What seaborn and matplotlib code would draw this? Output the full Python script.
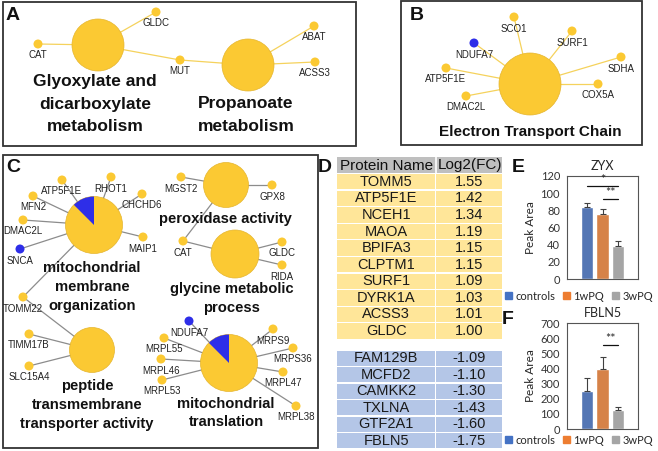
import numpy as np
import pandas as pd
import seaborn as sns
import matplotlib.pyplot as plt
from matplotlib.patches import Circle, Wedge, Rectangle, Patch

sns.set_theme(style="white")
plt.rcParams['font.family'] = ['Liberation Sans', 'DejaVu Sans']

# ---- data ----
down_genes = ["NDUFA7", "SNCA"]

a_terms = ["Glyoxylate and\ndicarboxylate\nmetabolism", "Propanoate\nmetabolism"]
a_genes = [["CAT", "GLDC", "MUT"], ["MUT", "ABAT", "ACSS3"]]

b_terms = ["Electron Transport Chain"]
b_genes = [["SCO1", "SURF1", "SDHA", "COX5A", "DMAC2L", "ATP5F1E", "NDUFA7"]]

c_terms = ["mitochondrial\nmembrane\norganization", "peroxidase activity",
           "glycine metabolic\nprocess", "peptide\ntransmembrane\ntransporter activity",
           "mitochondrial\ntranslation"]
c_genes = [["ATP5F1E", "RHOT1", "CHCHD6", "MAIP1", "TOMM22", "SNCA", "DMAC2L", "MFN2"],
           ["MGST2", "GPX8", "CAT"],
           ["CAT", "GLDC", "RIDA"],
           ["TOMM22", "TIMM17B", "SLC15A4"],
           ["NDUFA7", "MRPS9", "MRPS36", "MRPL47", "MRPL38", "MRPL53", "MRPL46", "MRPL55"]]

up_names = ["TOMM5", "ATP5F1E", "NCEH1", "MAOA", "BPIFA3", "CLPTM1", "SURF1",
            "DYRK1A", "ACSS3", "GLDC"]
up_fc = [1.55, 1.42, 1.34, 1.19, 1.15, 1.15, 1.09, 1.03, 1.01, 1.00]
down_names = ["FAM129B", "MCFD2", "CAMKK2", "TXLNA", "GTF2A1", "FBLN5"]
down_fc = [-1.09, -1.10, -1.30, -1.43, -1.60, -1.75]

groups = ["controls", "1wPQ", "3wPQ"]
zyx_mean = [84, 76, 38]
zyx_err = [5, 6, 6]
fbln5_mean = [253, 393, 128]
fbln5_err = [87, 85, 15]

# ---- layout (pixel positions on the canvas) ----
a_term_xy = [(98, 45, 26), (248, 65, 26)]
a_text_xy = [(95, 104), (246, 115)]
a_node_xy = {"CAT": (38, 44), "GLDC": (156, 12), "MUT": (180, 60),
             "ABAT": (314, 26), "ACSS3": (315, 62)}

b_term_xy = [(530, 84, 31)]
b_text_xy = [(530, 132)]
b_node_xy = {"SCO1": (514, 17), "SURF1": (572, 31), "NDUFA7": (474, 43),
             "ATP5F1E": (446, 68), "DMAC2L": (466, 96), "SDHA": (621, 57),
             "COX5A": (598, 84)}

c_term_xy = [(94, 225, 28.5), (226, 185, 22.5), (235, 254, 24),
             (92, 350, 22.5), (229, 363, 28.5)]
c_text_xy = [(92, 287), (225, 219), (232, 298.5), (87, 405), (226, 413)]
c_node_xy = {"ATP5F1E": (62, 180), "RHOT1": (111, 177), "MFN2": (33, 196),
             "CHCHD6": (142, 194), "DMAC2L": (23, 220), "SNCA": (20, 249),
             "MAIP1": (143, 237), "TOMM22": (23, 297), "MGST2": (181, 177),
             "GPX8": (272, 185), "CAT": (183, 241), "GLDC": (282, 242),
             "RIDA": (282, 265), "TIMM17B": (29, 334), "SLC15A4": (29, 366),
             "NDUFA7": (189, 321), "MRPL55": (164, 338), "MRPL46": (161, 359),
             "MRPL53": (162, 380), "MRPS9": (273, 329), "MRPS36": (293, 348),
             "MRPL47": (283, 372), "MRPL38": (296, 406)}

yellow = "#FBC933"
blue = "#2E2EE8"
bar_colors = ["#4472C4", "#ED7D31", "#A5A5A5"]

fig = plt.figure(figsize=(6.58, 4.51), dpi=100)
ax = fig.add_axes([0, 0, 1, 1])


def draw_network(ax, terms, genes, term_xy, text_xy, node_xy, edge_color,
                 title_size, pie):
    gap = title_size * 1.27 / 0.72  # line spacing in pixels
    for t, members in enumerate(genes):
        cx, cy, r = term_xy[t]
        for g in members:
            gx, gy = node_xy[g]
            ax.plot([cx, gx], [cy, gy], color=edge_color, lw=0.9, zorder=1)
        ax.add_patch(Circle((cx, cy), r, fc=yellow, ec="#E5B52E", lw=0.5, zorder=2))
        n_down = sum(g in down_genes for g in members)
        if pie and n_down:
            frac = n_down / len(members)
            ax.add_patch(Wedge((cx, cy), r, 270 - 360 * frac, 270, fc=blue,
                               ec="none", zorder=2.5))
        tx, ty = text_xy[t]
        lines = terms[t].split("\n")
        for k, line in enumerate(lines):
            ly = ty + (k - (len(lines) - 1) / 2) * gap
            ax.text(tx, ly, line, ha="center", va="center", fontsize=title_size,
                    fontweight="bold", color="#111111", zorder=5)
    names = list(node_xy.keys())
    nodes = pd.DataFrame({
        "gene": names,
        "x": [node_xy[n][0] for n in names],
        "y": [node_xy[n][1] for n in names],
        "reg": ["down" if n in down_genes else "up" for n in names],
    })
    sns.scatterplot(data=nodes, x="x", y="y", hue="reg",
                    palette={"up": yellow, "down": blue}, s=42, linewidth=0,
                    legend=False, ax=ax, zorder=3)
    for _, row in nodes.iterrows():
        ax.text(row.x, row.y + 11.5, row.gene, ha="center", va="center",
                fontsize=7, color="#222222", zorder=4)


# panel boxes
for (x0, y0, x1, y1) in [(3, 2, 356, 146), (401, 1, 642, 145), (3, 155, 318, 448)]:
    ax.add_patch(Rectangle((x0, y0), x1 - x0, y1 - y0, fill=False,
                           ec="#333333", lw=1.3, zorder=0))

draw_network(ax, a_terms, a_genes, a_term_xy, a_text_xy, a_node_xy,
             "#F5D25C", 12.5, False)
draw_network(ax, b_terms, b_genes, b_term_xy, b_text_xy, b_node_xy,
             "#F5D25C", 11, False)
draw_network(ax, c_terms, c_genes, c_term_xy, c_text_xy, c_node_xy,
             "#8C8C8C", 10.6, True)

# panel letters
for lab, (lx, ly) in zip("ABCDEF", [(13, 15), (417, 15), (13, 168), (325, 167),
                                    (518, 167), (508, 320)]):
    ax.text(lx, ly, lab, ha="center", va="center", fontsize=14,
            fontweight="bold", color="#111111", zorder=6)

# table D
x1, x2, x3 = 337, 435.5, 502
ax.add_patch(Rectangle((x1, 157), x3 - x1, 16, fc="#BFBFBF", ec="none"))
ax.plot([x2, x2], [157, 173], color="white", lw=1.2)
ax.text((x1 + x2) / 2, 165.5, "Protein Name", ha="center", va="center",
        fontsize=11, color="#111111")
ax.text((x2 + x3) / 2 + 1, 165.5, "Log2(FC)", ha="center", va="center",
        fontsize=11, color="#111111")


def table_rows(names, values, top, step, color):
    for i, (n, v) in enumerate(zip(names, values)):
        y0 = top + i * step
        ax.add_patch(Rectangle((x1, y0), x2 - x1 - 0.6, step - 1.2, fc=color, ec="none"))
        ax.add_patch(Rectangle((x2 + 0.6, y0), x3 - x2 - 0.6, step - 1.2, fc=color, ec="none"))
        yc = y0 + (step - 1.2) / 2
        ax.text((x1 + x2) / 2, yc, n, ha="center", va="center", fontsize=10.5,
                color="#1a1a1a")
        ax.text((x2 + x3) / 2, yc, f"{v:.2f}", ha="center", va="center",
                fontsize=10.5, color="#1a1a1a")


table_rows(up_names, up_fc, 174, 16.6, "#FFE699")
table_rows(down_names, down_fc, 350.5, 16.5, "#B4C6E7")

ax.set_xlim(0, 658)
ax.set_ylim(451, 0)
ax.set_axis_off()


# bar charts E and F
def bar_panel(rect, title, means, errs, ymax, step, sig, legend_y):
    bx = fig.add_axes(rect)
    df = pd.DataFrame({"group": groups, "value": means})
    sns.barplot(data=df, x="group", y="value", hue="group", palette=bar_colors,
                width=0.8, errorbar=None, legend=False, ax=bx)
    bx.errorbar(x=np.arange(3), y=means, yerr=[np.zeros(3), errs], fmt="none",
                ecolor="#404040", elinewidth=0.8, capsize=2, capthick=0.8)
    for (xa, xb, yv, txt) in sig:
        bx.plot([xa, xb], [yv, yv], color="#111111", lw=0.9)
        bx.text((xa + xb) / 2, yv, txt, ha="center", va="bottom", fontsize=9,
                family="Lato")
    bx.set_xlim(-1.33, 3.33)
    bx.set_ylim(0, ymax)
    bx.set_yticks(np.arange(0, ymax + 1, step))
    bx.set_xticks([])
    bx.set_xlabel("")
    bx.set_ylabel("Peak Area", fontsize=8.5, family="Lato", labelpad=3)
    bx.set_title(title, fontsize=9, family="Lato", pad=4)
    bx.tick_params(axis="y", length=0, labelsize=8, pad=5, colors="#333333")
    for lab in bx.get_yticklabels():
        lab.set_family("Lato")
    for sp in bx.spines.values():
        sp.set_visible(True)
        sp.set_color("#555555")
        sp.set_linewidth(0.8)
    handles = [Patch(color=c, label=g) for g, c in zip(groups, bar_colors)]
    fig.legend(handles=handles, loc="center", ncol=3, frameon=False,
               bbox_to_anchor=(579 / 658, 1 - legend_y / 451),
               prop={"family": "Lato", "size": 8}, handlelength=0.65,
               handleheight=0.65, handletextpad=0.3, columnspacing=0.7,
               borderpad=0.1)


bar_panel([567 / 658, 1 - 279 / 451, 71 / 658, 103 / 451], "ZYX", zyx_mean,
          zyx_err, 120, 20, [(0, 2, 108, "*"), (1, 2, 93, "**")], 296)
bar_panel([567 / 658, 1 - 429 / 451, 71 / 658, 106 / 451], "FBLN5", fbln5_mean,
          fbln5_err, 700, 100, [(1, 2, 553, "**")], 440)

fig.savefig("out.png", dpi=100)
